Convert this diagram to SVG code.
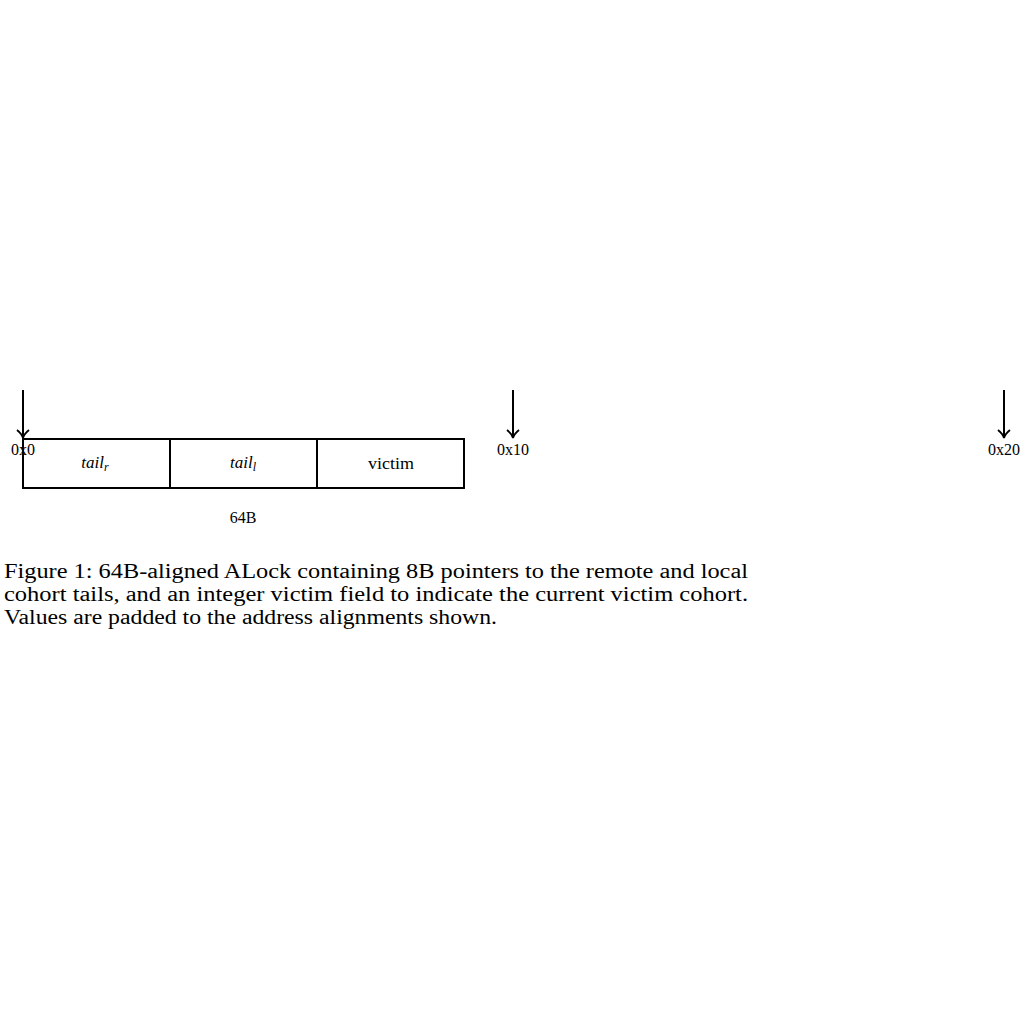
<svg xmlns="http://www.w3.org/2000/svg" width="1024" height="1024" viewBox="0 0 1024 1024">
<style>
text{font-family:"Liberation Serif","DejaVu Serif",serif;fill:#000}
.s{font-size:16px}
.cap{font-size:20px}
.ln{stroke:#000;stroke-width:2;fill:none}
</style>
<defs>
<marker id="ah" markerWidth="12" markerHeight="14" refX="9" refY="7" orient="auto" markerUnits="userSpaceOnUse">
<path d="M1,1 Q5,6 9,7 Q5,8 1,13" stroke="#000" stroke-width="1.8" fill="none"/>
</marker>
</defs>
<rect width="1024" height="1024" fill="#fff"/>
<g id="connectors">
<line class="ln" x1="23" y1="390" x2="23" y2="438" marker-end="url(#ah)"/>
<line class="ln" x1="513" y1="390" x2="513" y2="438" marker-end="url(#ah)"/>
<line class="ln" x1="1004" y1="390" x2="1004" y2="438" marker-end="url(#ah)"/>
</g>
<g id="cell-tailr">
<rect class="ln" x="23" y="439" width="147" height="49"/>
<text x="95" y="468" text-anchor="middle" font-size="17"><tspan font-style="italic">tail</tspan><tspan font-style="italic" font-size="12" dy="3">r</tspan></text>
</g>
<g id="cell-taill">
<rect class="ln" x="170" y="439" width="147" height="49"/>
<text x="243" y="468" text-anchor="middle" font-size="17"><tspan font-style="italic">tail</tspan><tspan font-style="italic" font-size="12" dy="3">l</tspan></text>
</g>
<g id="cell-victim">
<rect class="ln" x="317" y="439" width="147" height="49"/>
<text x="391" y="469" text-anchor="middle" font-size="17" textLength="46" lengthAdjust="spacingAndGlyphs">victim</text>
</g>
<g id="label-0x0"><text class="s" x="23" y="455" text-anchor="middle">0x0</text></g>
<g id="label-0x10"><text class="s" x="513" y="455" text-anchor="middle">0x10</text></g>
<g id="label-0x20"><text class="s" x="1004" y="455" text-anchor="middle">0x20</text></g>
<g id="label-64B"><text class="s" x="243" y="523" text-anchor="middle">64B</text></g>
<g id="caption">
<text class="cap" x="4" y="578" textLength="744" lengthAdjust="spacingAndGlyphs">Figure 1: 64B-aligned ALock containing 8B pointers to the remote and local</text>
<text class="cap" x="4" y="601" textLength="744" lengthAdjust="spacingAndGlyphs">cohort tails, and an integer victim field to indicate the current victim cohort.</text>
<text class="cap" x="4" y="624" textLength="493" lengthAdjust="spacingAndGlyphs">Values are padded to the address alignments shown.</text>
</g>
</svg>
